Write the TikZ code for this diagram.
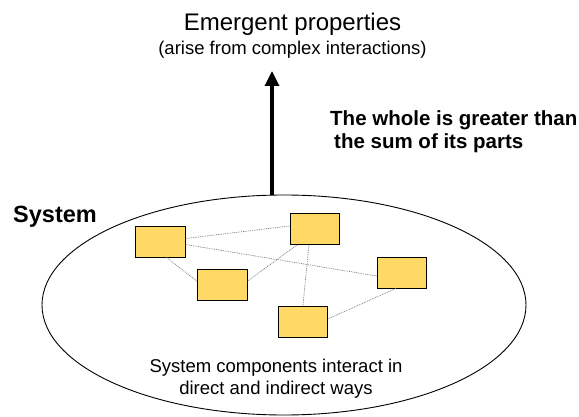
\documentclass[tikz,border=0pt]{standalone}
\usepackage{fontspec}
\setmainfont{Liberation Sans}
\usetikzlibrary{shapes.geometric,arrows.meta}
\definecolor{partfill}{HTML}{FFD966}
\definecolor{linkgray}{HTML}{7F7F7F}
\begin{document}
\begin{tikzpicture}[x=1pt,y=-1pt,
  part/.style={draw=black,line width=0.9pt,fill=partfill,
    minimum width=49.5pt,minimum height=31pt,inner sep=0pt},
  link/.style={draw=linkgray,line width=0.7pt,dash pattern=on 0.9pt off 0.9pt},
  lbl/.style={inner sep=0pt,anchor=base},
  boldlbl/.style={inner sep=0pt,anchor=base west,font=\bfseries\fontsize{20.5}{23}\selectfont}]
\useasboundingbox (0,0) rectangle (579,417);

% the system boundary
\node[ellipse,draw=black,line width=0.9pt,minimum width=484pt,minimum height=220pt,inner sep=0pt]
  (sys) at (284,305) {};

% headings
\node[lbl,font=\fontsize{24}{28}\selectfont] (title) at (292.5,30.7) {Emergent properties};
\node[lbl,font=\fontsize{18.5}{22}\selectfont] (subtitle) at (292.5,54.3) {(arise from complex interactions)};
\node[boldlbl] (whole1) at (330,126) {The whole is greater than};
\node[boldlbl] (whole2) at (334,149) {the sum of its parts};
\node[boldlbl,font=\bfseries\fontsize{23.5}{27}\selectfont] (syslbl) at (13,222.7) {System};

% emergence arrow
\coordinate (tip) at (272,71);
\draw[line width=3.3pt,-{Triangle[length=15pt,width=14pt]}] ([xshift=-12pt]sys.north) -- (tip);

% components
\node[part] (A) at (160.5,241.5) {};
\node[part] (B) at (315,229) {};
\node[part] (C) at (222.2,284.7) {};
\node[part] (D) at (401.9,272.5) {};
\node[part] (E) at (302.9,321.8) {};

% interactions
\draw[link] ([yshift=3pt]A.east) -- ([yshift=3pt]B.west);
\draw[link] ([yshift=-3pt]A.east) -- ([yshift=-3.5pt]D.west);
\draw[link] ([xshift=6pt]A.south) -- ([yshift=3.5pt]C.west);
\draw[link] ([xshift=-18pt]B.south) -- ([yshift=3.5pt]C.east);
\draw[link] ([xshift=-6pt]B.south) -- (E.north);
\draw[link] ([xshift=-6pt]D.south) -- ([yshift=3pt]E.east);

% caption inside the system
\node[inner sep=0pt,anchor=north,align=center,font=\fontsize{18.5}{21.7}\selectfont]
  (caption) at (276,358.8) {System components interact in\\direct and indirect ways};
\end{tikzpicture}
\end{document}
